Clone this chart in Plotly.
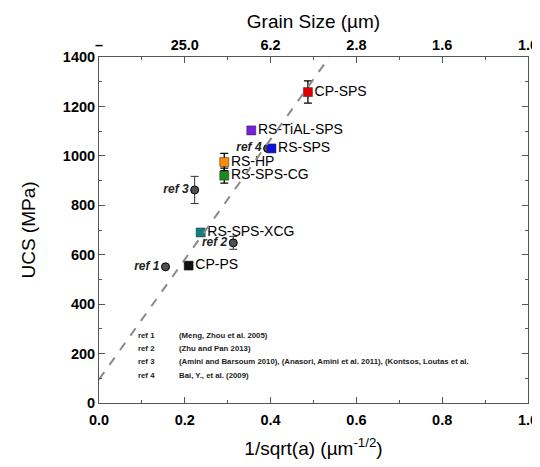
import plotly.graph_objects as go

# Materials (squares)
mat_names = ["CP-SPS", "RS-TiAL-SPS", "RS-SPS", "RS-HP", "RS-SPS-CG", "RS-SPS-XCG", "CP-PS"]
mat_x = [0.487, 0.355, 0.402, 0.292, 0.292, 0.237, 0.209]
mat_y = [1258, 1103, 1030, 975, 920, 690, 556]
mat_err = [45, 15, 8, 35, 30, 8, 8]
mat_colors = ["#e00000", "#7a1fe0", "#1010e0", "#ff8c00", "#1a8a1a", "#108080", "#111111"]

# Literature references (circles)
ref_names = ["ref 1", "ref 2", "ref 3", "ref 4"]
ref_x = [0.155, 0.313, 0.223, 0.393]
ref_y = [551, 648, 862, 1030]
ref_err = [0, 26, 55, 0]

# Hall-Petch dashed fit line
fit_x = [0.0, 0.537]
fit_y = [95, 1400]

# Reference list
cite_keys = ["ref 1", "ref 2", "ref 3", "ref 4"]
cite_texts = [
    "(Meng, Zhou et al. 2005)",
    "(Zhu and Pan 2013)",
    "(Amini and Barsoum 2010), (Anasori, Amini et al. 2011), (Kontsos, Loutas et al.",
    "Bai, Y., et al. (2009)",
]
cite_y = [275, 220, 166, 112]

# Axis ticks
x_ticks = [0.0, 0.2, 0.4, 0.6, 0.8, 1.0]
top_tick_text = ["–", "25.0", "6.2", "2.8", "1.6", "1.0"]
y_ticks = [0, 200, 400, 600, 800, 1000, 1200, 1400]

FONT = "Liberation Sans, Arial, sans-serif"
tickfont = dict(family=FONT, size=14.5, color="black", weight="bold")
titlefont = dict(family=FONT, size=19, color="black")

fig = go.Figure()

fig.add_trace(go.Scatter(
    x=fit_x, y=fit_y, mode="lines", xaxis="x2",
    line=dict(color="#8a8a8a", width=2, dash="dash"), showlegend=False, hoverinfo="skip"))

fig.add_trace(go.Scatter(
    x=ref_x, y=ref_y, mode="markers+text", text=ref_names, textposition="middle left",
    textfont=dict(family=FONT, size=12, color="#222", weight="bold", style="italic"),
    marker=dict(symbol="circle", size=8, color="#505050", line=dict(color="black", width=1)),
    error_y=dict(type="data", array=ref_err, color="#333", thickness=1, width=4),
    showlegend=False))

for n, x, y, e, c in zip(mat_names, mat_x, mat_y, mat_err, mat_colors):
    fig.add_trace(go.Scatter(
        x=[x], y=[y], mode="markers+text", text=[n], textposition="middle right",
        textfont=dict(family=FONT, size=14, color="black"),
        marker=dict(symbol="square", size=9, color=c, line=dict(color="#222", width=0.5)),
        error_y=dict(type="data", array=[e], color="black", thickness=1.3, width=4),
        showlegend=False))

for k, t, y in zip(cite_keys, cite_texts, cite_y):
    fig.add_annotation(x=0.086, y=y, text=k, showarrow=False,
                       xanchor="left", font=dict(family=FONT, size=7.8, color="#222", weight="bold"))
    fig.add_annotation(x=0.181, y=y, text=t, showarrow=False,
                       xanchor="left", font=dict(family=FONT, size=7.8, color="#222", weight="bold"))

axis_common = dict(showgrid=False, zeroline=False, showline=True, linecolor="#555", linewidth=1,
                   ticks="inside", ticklen=6, tickcolor="#555", tickfont=tickfont, automargin=False,
                   ticklabeloverflow="allow")

fig.update_layout(
    width=540, height=459,
    margin=dict(l=91, r=20, t=49, b=64),
    plot_bgcolor="white", paper_bgcolor="white",
    showlegend=False,
    xaxis=dict(**axis_common, range=[0, 1], tickvals=x_ticks, tickformat=".1f", ticklabelstandoff=4,
               minor=dict(ticks="inside", ticklen=3, dtick=0.1, tickcolor="#555"),
               title=dict(text="1/sqrt(a) (µm<sup>-1/2</sup>)", font=titlefont, standoff=14)),
    xaxis2=dict(**axis_common, range=[0, 1], overlaying="x", side="top", tickvals=x_ticks, ticktext=top_tick_text,
                minor=dict(ticks="inside", ticklen=3, dtick=0.1, tickcolor="#555"),
                title=dict(text="Grain Size (µm)", font=titlefont, standoff=3)),
    yaxis=dict(**axis_common, range=[0, 1400], tickvals=y_ticks, mirror="ticks",
               minor=dict(ticks="inside", ticklen=3, dtick=100, tickcolor="#555"),
               title=dict(text="UCS (MPa)", font=titlefont, standoff=22)),
)

fig.write_html("out.html")
